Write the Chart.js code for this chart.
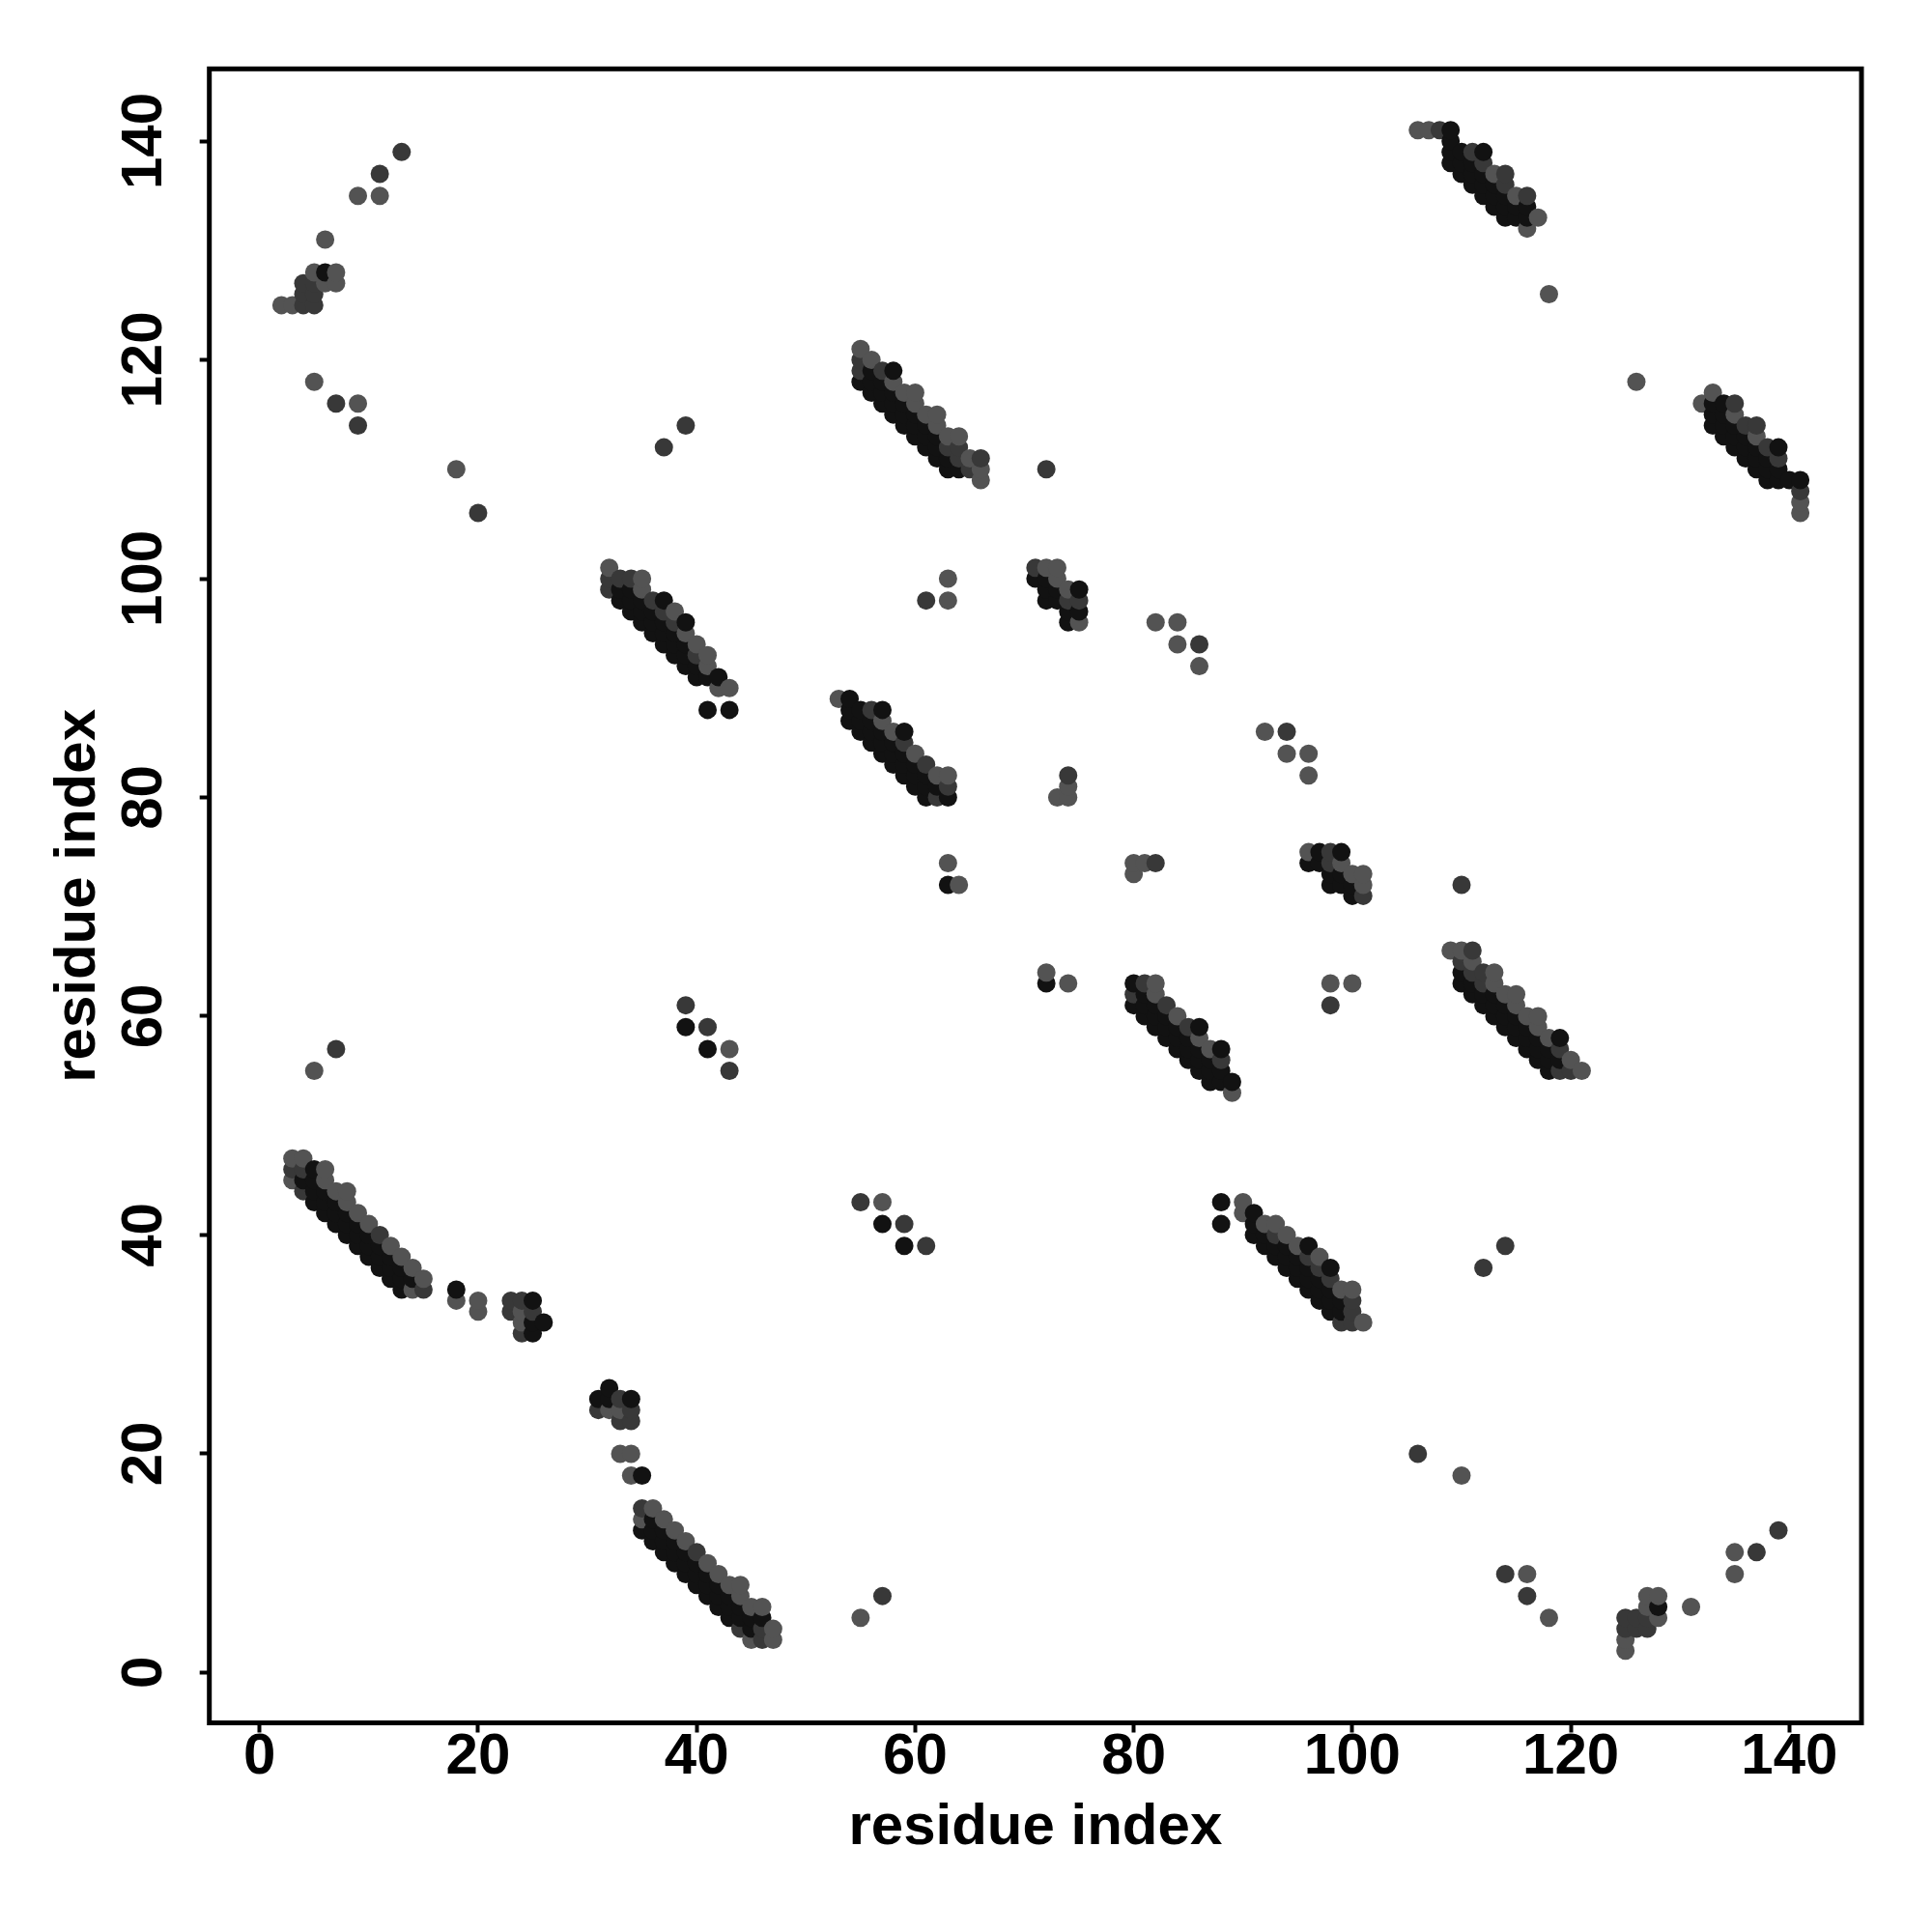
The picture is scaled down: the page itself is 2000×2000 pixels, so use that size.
<!DOCTYPE html>
<html>
<head>
<meta charset="utf-8">
<script src="https://cdn.jsdelivr.net/npm/chart.js@4.4.1/dist/chart.umd.min.js"></script>
<style>
  html, body { margin: 0; padding: 0; background: #fff; }
  #wrap { width: 2000px; height: 2000px; }
</style>
</head>
<body>
<div id="wrap"><canvas id="contactMap"></canvas></div>
<script>
/* contact map: only pairs (i < j) are listed, the map is symmetric */
const tickValues = [0, 20, 40, 60, 80, 100, 120, 140];
const axisTitle = 'residue index';

const weak = [
  [2,125],[3,125],[6,127],[7,127],[5,128],[7,128],[6,131],[9,135],[11,135],[5,118],[9,116],[18,110],
  [5,55],[43,57],
  [3,45],[3,47],[4,47],[6,45],[6,46],[7,44],[8,43],[8,44],[9,42],[10,41],[12,39],[13,38],[14,35],[14,37],[15,36],
  [18,34],[20,33],[20,34],[24,32],[24,33],
  [32,101],[35,99],[35,100],[38,97],[39,95],[40,94],[41,92],[41,93],[42,90],[43,90],
  [55,121],[56,120],[58,118],[59,117],[60,116],[60,117],[61,115],[62,114],[62,115],[63,113],[64,113],[65,111],[66,109],[66,110],
  [53,89],[57,87],[58,86],[60,84],[62,82],[63,82],
  [63,98],[63,100],[64,72],[63,74],[73,80],[74,80],[74,81],[82,96],[84,96],[84,94],[86,92],
  [72,101],[73,100],[73,101],[74,99],[75,96],
  [106,141],[107,141],[113,137],[115,135],[116,132],[117,133],[118,126]
];

const mid = [
  [4,125],[5,125],[4,126],[5,126],[4,127],[5,127],[11,137],[13,139],[7,116],[9,114],[20,106],
  [7,57],[39,61],[41,59],[43,55],[37,112],[39,114],
  [3,46],[4,44],[4,46],[11,40],[15,35],
  [23,33],[23,34],[24,31],[24,34],[25,33],
  [32,99],[32,100],[33,100],[34,100],[36,98],[37,97],[38,96],[40,93],
  [55,119],[55,120],[57,119],[63,112],[64,111],[64,112],[65,110],[66,111],
  [56,88],[59,85],[61,83],[62,80],[63,81],
  [61,98],[72,110],[74,82],[86,94],
  [71,101],[74,98],[75,98],
  [108,141],[111,139],[112,138],[114,136],[114,137],[116,135]
];

const strong = [
  [6,128],
  [39,59],[41,57],
  [4,45],[5,43],[5,44],[5,45],[5,46],[6,42],[6,43],[6,44],[7,41],[7,42],[7,43],[8,40],[8,41],[8,42],
  [9,39],[9,40],[9,41],[10,38],[10,39],[10,40],[11,37],[11,38],[11,39],[12,36],[12,37],[12,38],
  [13,35],[13,36],[13,37],[14,36],
  [18,35],[25,31],[25,32],[25,34],[26,32],
  [33,98],[33,99],[34,97],[34,98],[34,99],[35,96],[35,97],[35,98],[36,95],[36,96],[36,97],
  [37,94],[37,95],[37,96],[37,98],[38,93],[38,94],[38,95],[39,92],[39,93],[39,94],[39,96],
  [40,91],[40,92],[41,88],[41,91],[42,91],[43,88],
  [55,118],[56,117],[56,118],[56,119],[57,116],[57,117],[57,118],[58,115],[58,116],[58,117],[58,119],
  [59,114],[59,115],[59,116],[60,113],[60,114],[60,115],[61,112],[61,113],[61,114],
  [62,111],[62,112],[62,113],[63,110],[63,111],[64,110],
  [54,87],[54,88],[54,89],[55,86],[55,87],[55,88],[56,85],[56,86],[56,87],[57,84],[57,85],[57,86],[57,88],
  [58,83],[58,84],[58,85],[59,82],[59,83],[59,84],[59,86],[60,81],[60,82],[60,83],
  [61,80],[61,81],[61,82],[62,81],[63,80],
  [63,72],
  [71,100],[72,98],[72,99],[72,100],[73,98],[73,99],[74,96],[74,97],[75,97],[75,99],
  [109,138],[109,139],[109,140],[109,141],[110,137],[110,138],[110,139],[111,136],[111,137],[111,138],
  [112,135],[112,136],[112,137],[112,139],[113,134],[113,135],[113,136],[114,133],[114,134],[114,135],
  [115,133],[115,134],[116,133],[116,134]
];

/* grey level per contact class */
const shades = ['#535353', '#383838', '#121212'];

const pts = [];
[weak, mid, strong].forEach((list, lvl) => {
  list.forEach(([i, j]) => {
    pts.push({x: i, y: j, lvl});
    pts.push({x: j, y: i, lvl});
  });
});
// draw in residue order, like the original
pts.sort((a, b) => a.x - b.x || a.y - b.y);

const fontFamily = '"Liberation Sans", Arial, Helvetica, sans-serif';
const tickFont = {family: fontFamily, size: 60, weight: 'bold', lineHeight: 1};

/* box round the plot region */
const framePlugin = {
  id: 'frame',
  afterDatasetsDraw(chart) {
    const {ctx, chartArea: a} = chart;
    ctx.save();
    ctx.strokeStyle = '#000';
    ctx.lineWidth = 5;
    ctx.strokeRect(a.left, a.top, a.right - a.left, a.bottom - a.top);
    ctx.restore();
  }
};

const setTicks = scale => { scale.ticks = tickValues.map(v => ({value: v})); };
const gridOpts = {
  display: true, drawOnChartArea: false, drawTicks: true,
  tickLength: 10, tickWidth: 4, tickColor: '#000', color: '#000'
};

new Chart(document.getElementById('contactMap'), {
  type: 'scatter',
  data: {
    datasets: [{
      data: pts,
      pointRadius: 9.5,
      pointBorderWidth: 0,
      pointBackgroundColor: pts.map(p => shades[p.lvl]),
      pointBorderColor: pts.map(p => shades[p.lvl])
    }]
  },
  options: {
    responsive: true,
    maintainAspectRatio: false,
    devicePixelRatio: 1,
    animation: false,
    events: [],
    layout: {padding: {top: 71.3, right: 73, bottom: 0, left: 0}},
    plugins: {legend: {display: false}, tooltip: {enabled: false}},
    scales: {
      x: {
        type: 'linear', min: -4.6, max: 146.6,
        afterBuildTicks: setTicks,
        afterFit: s => { s.height = 216.5; },
        grid: gridOpts,
        border: {display: false},
        ticks: {font: tickFont, color: '#000', padding: -4, maxRotation: 0, minRotation: 0},
        title: {display: true, text: axisTitle, color: '#000', font: tickFont, padding: {top: 0, bottom: 78}}
      },
      y: {
        type: 'linear', min: -4.6, max: 146.6,
        afterBuildTicks: setTicks,
        afterFit: s => { s.width = 216.7; },
        grid: gridOpts,
        border: {display: false},
        ticks: {font: tickFont, color: '#000', padding: 6.5, minRotation: 90, maxRotation: 90, crossAlign: 'center'},
        title: {display: true, text: axisTitle, color: '#000', font: tickFont, padding: {top: 51, bottom: 0}}
      }
    }
  },
  plugins: [framePlugin]
});
</script>
</body>
</html>
